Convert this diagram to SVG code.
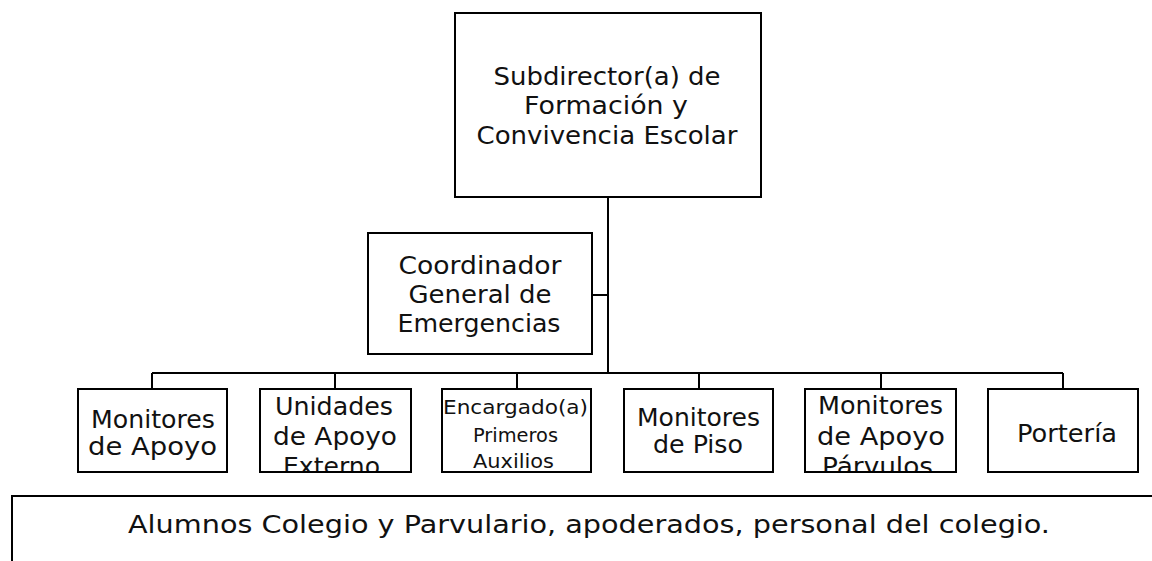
<svg xmlns="http://www.w3.org/2000/svg" width="1152" height="561" viewBox="0 0 1152 561">
<style>
.box{fill:#fff;stroke:#000;stroke-width:2}
.ln{fill:none;stroke:#000;stroke-width:2}
text{font-family:"DejaVu Sans","Liberation Sans",sans-serif;fill:#111;text-anchor:middle}
.t{font-size:24px}
.s{font-size:20px}
</style>
<defs>
<clipPath id="c2"><rect x="261" y="390" width="149" height="81"/></clipPath>
<clipPath id="c5"><rect x="806" y="390" width="149" height="81"/></clipPath>
</defs>
<rect width="1152" height="561" fill="#fff"/>
<g id="connectors">
<path class="ln" d="M608 197V373M592 295H608M152 373H1063M152 373V389M335 373V389M517 373V389M699 373V389M881 373V389M1063 373V389"/>
</g>
<g id="subdirector">
<rect class="box" x="455" y="13" width="306" height="184"/>
<text class="t" x="607" y="85" textLength="227" lengthAdjust="spacingAndGlyphs">Subdirector(a) de</text>
<text class="t" x="606" y="114" textLength="164" lengthAdjust="spacingAndGlyphs">Formación y</text>
<text class="t" x="607" y="144" textLength="261" lengthAdjust="spacingAndGlyphs">Convivencia Escolar</text>
</g>
<g id="coordinador">
<rect class="box" x="368" y="233" width="224" height="121"/>
<text class="t" x="480" y="274" textLength="163" lengthAdjust="spacingAndGlyphs">Coordinador</text>
<text class="t" x="480" y="303" textLength="143" lengthAdjust="spacingAndGlyphs">General de</text>
<text class="t" x="479" y="332" textLength="163" lengthAdjust="spacingAndGlyphs">Emergencias</text>
</g>
<g id="monitores-apoyo">
<rect class="box" x="78" y="389" width="149" height="83"/>
<text class="t" x="153" y="428" textLength="124" lengthAdjust="spacingAndGlyphs">Monitores</text>
<text class="t" x="152.5" y="455" textLength="129" lengthAdjust="spacingAndGlyphs">de Apoyo</text>
</g>
<g id="unidades-apoyo">
<rect class="box" x="260" y="389" width="151" height="83"/>
<g clip-path="url(#c2)">
<text class="t" x="334" y="415" textLength="118" lengthAdjust="spacingAndGlyphs">Unidades</text>
<text class="t" x="335" y="445" textLength="124" lengthAdjust="spacingAndGlyphs">de Apoyo</text>
<text class="t" x="331.5" y="475" textLength="97" lengthAdjust="spacingAndGlyphs">Externo</text>
</g>
</g>
<g id="primeros-auxilios">
<rect class="box" x="442" y="389" width="149" height="83"/>
<text class="s" x="515.5" y="414" textLength="145" lengthAdjust="spacingAndGlyphs">Encargado(a)</text>
<text class="s" x="515.5" y="442" textLength="85" lengthAdjust="spacingAndGlyphs">Primeros</text>
<text class="s" x="513.5" y="468" textLength="81" lengthAdjust="spacingAndGlyphs">Auxilios</text>
</g>
<g id="monitores-piso">
<rect class="box" x="624" y="389" width="149" height="83"/>
<text class="t" x="698.5" y="426" textLength="123" lengthAdjust="spacingAndGlyphs">Monitores</text>
<text class="t" x="698" y="453" textLength="90" lengthAdjust="spacingAndGlyphs">de Piso</text>
</g>
<g id="monitores-parvulos">
<rect class="box" x="805" y="389" width="151" height="83"/>
<g clip-path="url(#c5)">
<text class="t" x="880.5" y="414" textLength="125" lengthAdjust="spacingAndGlyphs">Monitores</text>
<text class="t" x="881" y="445" textLength="128" lengthAdjust="spacingAndGlyphs">de Apoyo</text>
<text class="t" x="877.5" y="475" textLength="111" lengthAdjust="spacingAndGlyphs">Párvulos</text>
</g>
</g>
<g id="porteria">
<rect class="box" x="988" y="389" width="150" height="83"/>
<text class="t" x="1067" y="442" textLength="100" lengthAdjust="spacingAndGlyphs">Portería</text>
</g>
<g id="alumnos">
<rect class="box" x="12" y="496" width="1160" height="80"/>
<text class="t" x="589" y="533" textLength="922" lengthAdjust="spacingAndGlyphs">Alumnos Colegio y Parvulario, apoderados, personal del colegio.</text>
</g>
</svg>
